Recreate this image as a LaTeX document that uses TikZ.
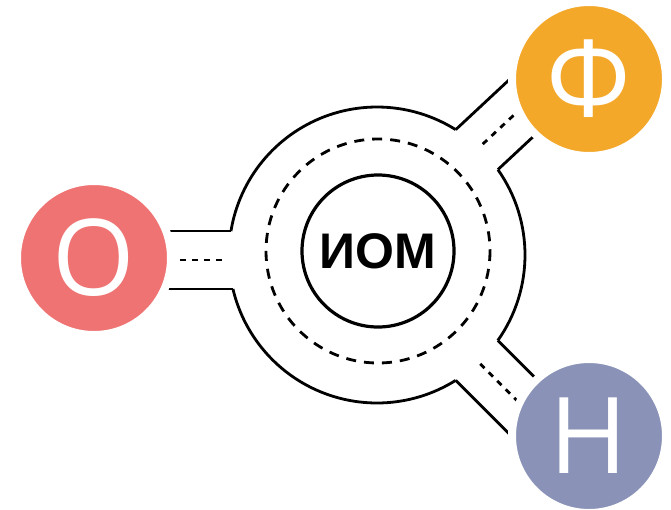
\documentclass[tikz,border=0pt]{standalone}
\usepackage{fontspec}
\setmainfont{Open Sans}
\newfontfamily\hubfont{Liberation Sans}
\usetikzlibrary{calc,backgrounds}
\definecolor{lred}{HTML}{EF7373}
\definecolor{lorange}{HTML}{F4A82A}
\definecolor{lblue}{HTML}{8A93B7}
\tikzstyle{station} = [circle, draw=white, line width=8pt, minimum size=154pt,
    inner sep=0pt, text=white, font=\fontsize{106}{106}\selectfont]
\tikzstyle{hub} = [circle, draw, line width=3.2pt, minimum size=152pt, inner sep=0pt,
    font=\hubfont\bfseries\fontsize{50}{50}\selectfont]
\tikzstyle{road} = [draw, line width=2.8pt]
\tikzstyle{lane} = [draw, line width=2.8pt, dash pattern=on 6pt off 6pt]
\tikzstyle{ringlane} = [draw, line width=2.8pt, dash pattern=on 10pt off 8pt]

\begin{document}
\begin{tikzpicture}[x=1pt, y=-1pt]
    \useasboundingbox (0,0) rectangle (671,509);
    % Place nodes
    \coordinate (ring) at (377,255);
    \node [hub] (mon) at (378,251) {ИОМ};
    \node [station, fill=lred] (o) at (94,258) {О};
    \node [station, fill=lorange] (f) at (589,79) {Ф};
    \node [station, fill=lblue] (n) at (589,436) {Н};
    % Draw the roundabout
    \path [ringlane] (mon) circle [radius=112];
    \path [road] ($(ring)+(57.9:148)$) arc [start angle=57.9, end angle=166.7, radius=148];
    \path [road] ($(ring)+(189.3:148)$) arc [start angle=189.3, end angle=302.1, radius=148];
    \path [road] ($(ring)+(324.8:148)$) arc [start angle=324.8, end angle=395.3, radius=148];
    % Draw roads
    \begin{scope}[on background layer]
    \foreach \a/\o/\s/\e/\st in {180/-5/155/197/o, -43/-9/153/195/f, 45/4/150/204/n} {
        \foreach \l in {\o-29, \o+29} {
            \coordinate (a) at ($(ring)+(\a:{148*sqrt(1-((\l)/148)^2)})+(\a+90:\l)$);
            \coordinate (b) at ($(ring)+(\a:300)+(\a+90:\l)$);
            \path [road] (a) -- ($(a)!(\st)!(b)$);
        }
        \path [lane] ($(ring)+(\a:\s)+(\a+90:\o)$) -- ($(ring)+(\a:\e)+(\a+90:\o)$);
    }
    \end{scope}
\end{tikzpicture}
\end{document}
